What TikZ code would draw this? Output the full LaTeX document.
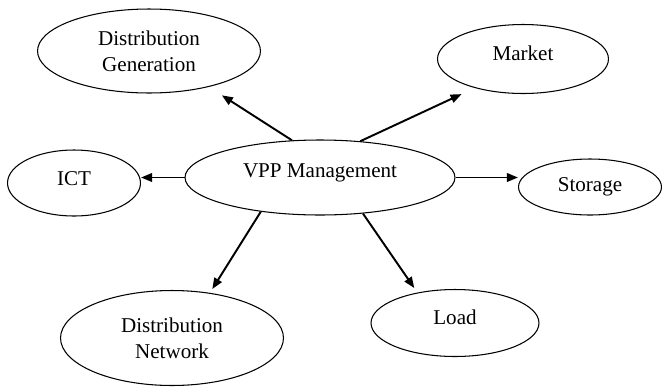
\documentclass[tikz,border=0pt]{standalone}
\usepackage{fontspec}
\setmainfont{Liberation Serif}
\usetikzlibrary{arrows.meta, shapes.geometric, calc}

\begin{document}
\begin{tikzpicture}[x=0.02cm, y=0.02cm,
    every node/.style={font=\fontsize{12}{15}\selectfont},
    bubble/.style={draw, ellipse, line width=0.6pt, inner sep=0pt, align=center},
    lift/.style={text height=8.5pt, text depth=#1},
    arr/.style={-{Triangle[length=0.22cm, width=0.17cm]}, line width=1.1pt}]
  \useasboundingbox (0,0) rectangle (662,387);
  % centre
  \node[bubble, lift=9pt, minimum width=5.4cm, minimum height=1.5cm] (vpp) at (320,209.5) {VPP Management};
  % one-line parts
  \foreach \n/\x/\y/\w/\h/\d/\txt in {
      market/523/328/3.42/1.38/7.3/{Market},
      ict/74/204/2.66/1.32/6.2/{ICT},
      storage/590/200/2.86/1.12/2.9/{Storage},
      load/455/64/3.36/1.34/6.7/{Load}}{
    \node[bubble, lift=\d pt, minimum width=\w cm, minimum height=\h cm] (\n) at (\x,\y) {\txt};
  }
  % two-line parts
  \foreach \n/\x/\y/\w/\h/\txt in {
      dg/149/336/4.46/1.68/{Distribution\\Generation},
      dn/172/49/4.46/1.9/{Distribution\\Network}}{
    \node[bubble, minimum width=\w cm, minimum height=\h cm] (\n) at (\x,\y) {\txt};
  }
  \draw[arr, shorten >=0.31cm] (vpp.127) -- (dg.-31);
  \draw[arr, shorten >=0.29cm] (vpp.42) -- (market.-149);
  \draw[arr] (vpp.west) -- (vpp.west -| ict.east);
  \draw[arr] (vpp.east) -- (vpp.east -| storage.west);
  \draw[arr, shorten >=0.09cm] (vpp.210) -- (dn.50.5);
  \draw[arr, shorten >=0.11cm] (vpp.-40) -- (load.141.7);
\end{tikzpicture}
\end{document}
